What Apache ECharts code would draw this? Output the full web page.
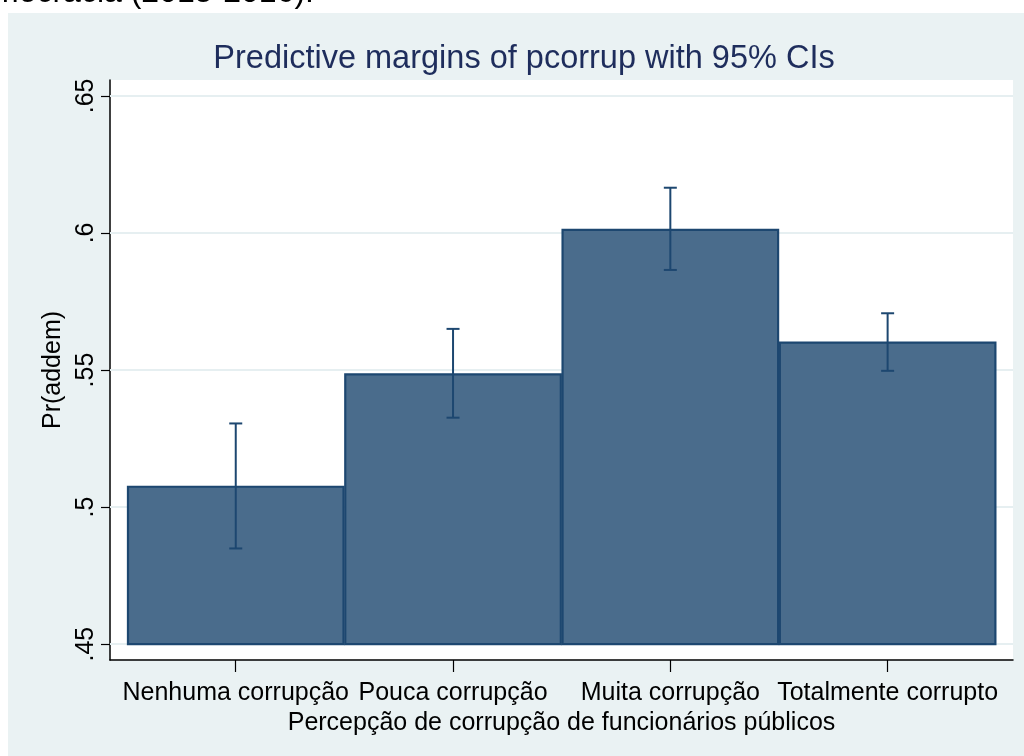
<!DOCTYPE html>
<html>
<head>
<meta charset="utf-8">
<script src="https://cdn.jsdelivr.net/npm/echarts@6/dist/echarts.min.js"></script>
<style>
html, body { margin: 0; padding: 0; background: #fff; }
#main { width: 1024px; height: 756px; }
</style>
</head>
<body>
<div id="main"></div>
<script>
// categorias e margens previstas
var categorias = ['Nenhuma corrupção', 'Pouca corrupção', 'Muita corrupção', 'Totalmente corrupto'];
var posicoes = [1, 2, 3, 4];
var margens = [0.5074, 0.5484, 0.6011, 0.5600];
var ciBaixo = [0.4849, 0.5326, 0.5865, 0.5497];
var ciAlto = [0.5305, 0.5650, 0.6165, 0.5707];
var yTicks = [0.45, 0.5, 0.55, 0.6, 0.65];
var baseValue = 0.45;

var fonte = '"Liberation Sans", Arial, sans-serif';

var dadosBarras = [];
var dadosCI = [];
for (var i = 0; i < categorias.length; i++) {
	dadosBarras.push([posicoes[i], margens[i]]);
	dadosCI.push([posicoes[i], ciBaixo[i], ciAlto[i]]);
}

var chart = echarts.init(document.getElementById('main'));
var option = {
	backgroundColor: '#ffffff',
	animation: false,
	graphic: [
		{ type: 'rect', z: -10, shape: { x: 8, y: 13, width: 1016, height: 743 }, style: { fill: '#eaf2f3' } },
		{ type: 'text', x: -8, y: 9, style: { text: 'mocracia (2015-2016).', font: '32px ' + fonte, fill: '#000', textVerticalAlign: 'bottom' } },
		{ type: 'text', x: 524, y: 59, style: { text: 'Predictive margins of pcorrup with 95% CIs', font: '32.5px ' + fonte, fill: '#1e2d5c', textAlign: 'center', textVerticalAlign: 'middle' } }
	],
	grid: {
		left: 110, right: 11, top: 80, bottom: 96,
		show: true, backgroundColor: '#ffffff', borderWidth: 0
	},
	xAxis: {
		type: 'value',
		min: 0.4213, max: 4.577,
		name: 'Percepção de corrupção de funcionários públicos',
		nameLocation: 'middle', nameGap: 42,
		nameTextStyle: { fontFamily: fonte, fontSize: 25, color: '#000' },
		axisLine: { show: true, onZero: false, lineStyle: { color: '#000', width: 1.5 } },
		axisTick: { show: true, length: 12, customValues: posicoes, lineStyle: { color: '#000', width: 1.2 } },
		axisLabel: {
			customValues: posicoes, margin: 21,
			fontFamily: fonte, fontSize: 25, color: '#000',
			formatter: function(v) { return categorias[Math.round(v) - 1]; }
		},
		splitLine: { show: false }
	},
	yAxis: {
		type: 'value',
		min: 0.4442, max: 0.6558,
		name: 'Pr(addem)',
		nameLocation: 'middle', nameGap: 44,
		nameTextStyle: { fontFamily: fonte, fontSize: 25, color: '#000' },
		axisLine: { show: true, lineStyle: { color: '#000', width: 1.5 } },
		axisTick: { show: true, length: 9, customValues: yTicks, lineStyle: { color: '#000', width: 1.2 } },
		axisLabel: {
			customValues: yTicks, rotate: 90, margin: 11,
			fontFamily: fonte, fontSize: 25, color: '#000',
			formatter: function(v) { return String(+v.toFixed(2)).replace(/^0/, ''); }
		},
		splitLine: { show: false }
	},
	series: [
		{
			type: 'line', data: [], z: 1, silent: true,
			markLine: {
				z: 1, silent: true, symbol: 'none', label: { show: false },
				lineStyle: { color: '#e6eff1', width: 2, type: 'solid' },
				data: yTicks.map(function(t) { return { yAxis: t }; })
			}
		},
		{
			type: 'custom', z: 3,
			data: dadosBarras,
			renderItem: function(params, api) {
				var x = api.value(0);
				var p0 = api.coord([x - 0.496, baseValue]);
				var p1 = api.coord([x + 0.496, api.value(1)]);
				return {
					type: 'rect',
					shape: { x: p0[0], y: p1[1], width: p1[0] - p0[0], height: p0[1] - p1[1] },
					style: { fill: '#4a6c8c', stroke: '#1d4770', lineWidth: 2.2 }
				};
			}
		},
		{
			type: 'custom', z: 4,
			data: dadosCI,
			renderItem: function(params, api) {
				var x = api.value(0);
				var lo = api.coord([x, api.value(1)]);
				var hi = api.coord([x, api.value(2)]);
				var cap = 6.5;
				var st = { stroke: '#1d4770', lineWidth: 2 };
				return {
					type: 'group',
					children: [
						{ type: 'line', shape: { x1: hi[0], y1: hi[1], x2: lo[0], y2: lo[1] }, style: st },
						{ type: 'line', shape: { x1: hi[0] - cap, y1: hi[1], x2: hi[0] + cap, y2: hi[1] }, style: st },
						{ type: 'line', shape: { x1: lo[0] - cap, y1: lo[1], x2: lo[0] + cap, y2: lo[1] }, style: st }
					]
				};
			}
		}
	]
};
chart.setOption(option);
</script>
</body>
</html>
